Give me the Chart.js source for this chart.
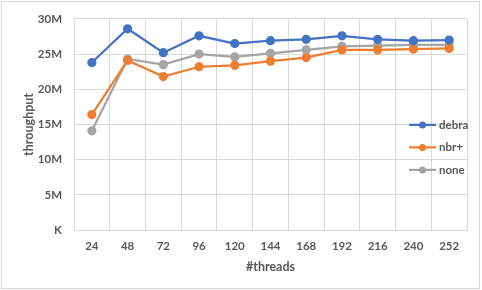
<!DOCTYPE html>
<html>
<head>
<meta charset="utf-8">
<script src="https://cdn.jsdelivr.net/npm/chart.js@4"></script>
<style>
  html, body { margin: 0; padding: 0; background: #fff; }
</style>
</head>
<body>
<canvas id="throughputChart" width="482" height="290"></canvas>
<script>
const threads = ['24','48','72','96','120','144','168','192','216','240','252'];
const debra = [23.8, 28.6, 25.2, 27.6, 26.5, 26.9, 27.1, 27.6, 27.1, 26.9, 27.0].map(v => v * 1e6);
const nbrPlus = [16.4, 24.1, 21.8, 23.2, 23.4, 24.0, 24.5, 25.6, 25.6, 25.7, 25.8].map(v => v * 1e6);
const none = [14.1, 24.3, 23.5, 25.0, 24.6, 25.1, 25.6, 26.1, 26.2, 26.3, 26.3].map(v => v * 1e6);
const yTicks = [0, 5e6, 10e6, 15e6, 20e6, 25e6, 30e6];

const textGray = '#595959';
const gridGray = '#d9d9d9';
const font = { family: 'Lato', size: 11.5, weight: 'bold' };
const titleFont = { family: 'Lato', size: 12.5, weight: 'bold' };

function series(label, data, color) {
    return {
        label, data,
        borderColor: color,
        backgroundColor: color,
        pointBackgroundColor: color,
        borderWidth: 2.25,
        pointRadius: 3.5,
        tension: 0,
    };
}

// excel style legend: line with a dot, overlaid on the plot
const lineLegend = {
    id: 'lineLegend',
    beforeDraw(chart) {
        const ctx = chart.ctx;
        ctx.save();
        ctx.fillStyle = '#fff';
        ctx.fillRect(0, 0, chart.width, chart.height);
        ctx.strokeStyle = gridGray;
        ctx.lineWidth = 1;
        ctx.strokeRect(1.5, 1.5, chart.width - 4, chart.height - 3);
        ctx.restore();
    },
    afterDraw(chart) {
        const ctx = chart.ctx;
        const x0 = chart.chartArea.right - 58;
        let y = chart.chartArea.top + 106;
        ctx.save();
        ctx.font = `bold ${font.size}px ${font.family}`;
        ctx.textBaseline = 'middle';
        chart.data.datasets.forEach(ds => {
            ctx.strokeStyle = ds.borderColor;
            ctx.lineWidth = 2.25;
            ctx.beginPath();
            ctx.moveTo(x0, y);
            ctx.lineTo(x0 + 27, y);
            ctx.stroke();
            ctx.fillStyle = ds.borderColor;
            ctx.beginPath();
            ctx.arc(x0 + 13.5, y, 3.5, 0, Math.PI * 2);
            ctx.fill();
            ctx.fillStyle = textGray;
            ctx.fillText(ds.label, x0 + 30, y);
            y += 22.5;
        });
        ctx.restore();
    }
};

new Chart(document.getElementById('throughputChart'), {
    type: 'line',
    data: {
        labels: threads,
        datasets: [
            series('debra', debra, '#4472C4'),
            series('nbr+', nbrPlus, '#ED7D31'),
            series('none', none, '#A5A5A5'),
        ]
    },
    options: {
        responsive: false,
        animation: false,
        devicePixelRatio: 1,
        layout: { padding: { left: 0, right: 15, top: 14, bottom: 10 } },
        plugins: { legend: { display: false }, tooltip: { enabled: false } },
        scales: {
            x: {
                offset: true,
                grid: { color: gridGray, offset: true, drawTicks: false },
                border: { color: gridGray },
                ticks: { color: textGray, font, padding: 9, maxRotation: 0 },
                title: { display: true, text: '#threads', color: textGray, font: titleFont, padding: { top: 0, bottom: 6 } },
                afterFit: s => { s.height = 50; }
            },
            y: {
                min: 0, max: 30e6,
                grid: { color: gridGray, drawTicks: false },
                border: { display: false },
                afterBuildTicks: s => { s.ticks = yTicks.map(v => ({ value: v })); },
                ticks: {
                    color: textGray, font, padding: 12,
                    callback: v => v === 0 ? 'K' : (v / 1e6) + 'M'
                },
                title: { display: true, text: 'throughput', color: textGray, font: titleFont, padding: { top: 21, bottom: 0 } },
                afterFit: s => { s.width = 74; }
            }
        }
    },
    plugins: [lineLegend]
});
</script>
</body>
</html>
